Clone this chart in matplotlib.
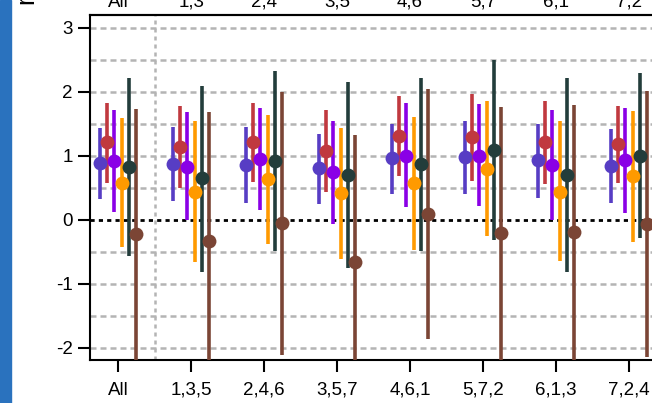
import matplotlib
matplotlib.use("Agg")
import matplotlib.pyplot as plt
import numpy as np
from matplotlib.patches import Rectangle

plt.rcParams['font.family'] = ['Liberation Sans', 'DejaVu Sans']

bottom_labels = ["All", "1,3,5", "2,4,6", "3,5,7", "4,6,1", "5,7,2", "6,1,3", "7,2,4"]
top_labels = ["All", "1,3", "2,4", "3,5", "4,6", "5,7", "6,1", "7,2"]

colors = ['#573dc4', '#c0393f', '#8a00e6', '#ff9a00', '#233d3b', '#7b4535']

# point estimates per series (one value per group)
s1_mid = [0.89, 0.87, 0.86, 0.81, 0.96, 0.98, 0.93, 0.84]
s1_lo = [0.33, 0.30, 0.27, 0.25, 0.41, 0.41, 0.34, 0.26]
s1_hi = [1.43, 1.45, 1.45, 1.34, 1.50, 1.54, 1.50, 1.42]

s2_mid = [1.21, 1.14, 1.22, 1.08, 1.31, 1.29, 1.22, 1.18]
s2_lo = [0.58, 0.50, 0.59, 0.44, 0.68, 0.61, 0.56, 0.57]
s2_hi = [1.83, 1.78, 1.83, 1.72, 1.94, 1.97, 1.86, 1.78]

s3_mid = [0.92, 0.83, 0.95, 0.74, 1.00, 1.00, 0.86, 0.93]
s3_lo = [0.12, 0.00, 0.16, -0.06, 0.20, 0.22, -0.01, 0.11]
s3_hi = [1.72, 1.68, 1.74, 1.55, 1.82, 1.81, 1.72, 1.74]

s4_mid = [0.58, 0.44, 0.64, 0.42, 0.57, 0.80, 0.44, 0.68]
s4_lo = [-0.42, -0.66, -0.38, -0.61, -0.47, -0.25, -0.64, -0.35]
s4_hi = [1.59, 1.55, 1.64, 1.43, 1.60, 1.85, 1.54, 1.70]

s5_mid = [0.83, 0.65, 0.92, 0.70, 0.87, 1.09, 0.70, 1.00]
s5_lo = [-0.56, -0.82, -0.49, -0.76, -0.48, -0.32, -0.81, -0.29]
s5_hi = [2.22, 2.09, 2.33, 2.15, 2.21, 2.50, 2.21, 2.29]

s6_mid = [-0.22, -0.33, -0.05, -0.66, 0.09, -0.21, -0.19, -0.06]
s6_lo = [-2.60, -2.60, -2.11, -2.60, -1.86, -2.60, -2.60, -2.14]
s6_hi = [1.73, 1.68, 2.00, 1.32, 2.05, 1.77, 1.80, 2.02]

series = [
    (s1_mid, s1_lo, s1_hi),
    (s2_mid, s2_lo, s2_hi),
    (s3_mid, s3_lo, s3_hi),
    (s4_mid, s4_lo, s4_hi),
    (s5_mid, s5_lo, s5_hi),
    (s6_mid, s6_lo, s6_hi),
]
offsets = [-0.25, -0.15, -0.05, 0.05, 0.15, 0.25]

fig = plt.figure(figsize=(6.52, 4.03), dpi=100)
fig.patches.append(Rectangle((0, 0), 11 / 652, 1, transform=fig.transFigure,
                             color='#2a72be', zorder=0))

ax = fig.add_axes([90 / 652, 43 / 403, 575.6 / 652, 345 / 403])
ax.set_xlim(-0.385, 7.5)
ax.set_ylim(-2.19, 3.2)

x = np.arange(len(bottom_labels))

grid_ls = (0, (2.4, 1.6))
for yv in [-2, -1.5, -1, -0.5, 0.5, 1, 1.5, 2, 2.5, 3]:
    ax.axhline(yv, color='#b4b4b4', lw=1.8, ls=grid_ls, zorder=1)
ax.axvline(0.5, color='#b4b4b4', lw=1.8, ls=(0, (1.6, 1.6)), zorder=1)
ax.axhline(0, color='black', lw=2.0, ls=(0, (1.5, 1.5)), zorder=1.5)

for (mid, lo, hi), off, c in zip(series, offsets, colors):
    xs = x + off
    ax.vlines(xs, lo, hi, color=c, lw=2.6, zorder=3)
    ax.plot(xs, mid, 'o', color=c, ms=10, mec='none', zorder=4)

ax.set_xticks(x)
ax.set_xticklabels(bottom_labels)
ax.set_yticks([-2, -1, 0, 1, 2, 3])
ax.set_yticklabels(['-2', '-1', '0', '1', '2', '3'])
ax.tick_params(axis='both', labelsize=13.5, length=8.5, width=1.5, color='black')
ax.tick_params(axis='x', pad=7)
ax.tick_params(axis='y', pad=4)

sec = ax.secondary_xaxis('top')
sec.set_xticks(x)
sec.set_xticklabels(top_labels)
sec.tick_params(length=0, labelsize=13.5, pad=3)
sec.spines['top'].set_linewidth(1.5)

for sp in ['left', 'bottom', 'top']:
    ax.spines[sp].set_linewidth(1.5)
ax.spines['right'].set_visible(False)

fig.text(33 / 652, 1 - 4 / 403, 'r', rotation=90, rotation_mode='anchor',
         ha='left', va='baseline', fontsize=18)

fig.savefig('out.png', dpi=100)
